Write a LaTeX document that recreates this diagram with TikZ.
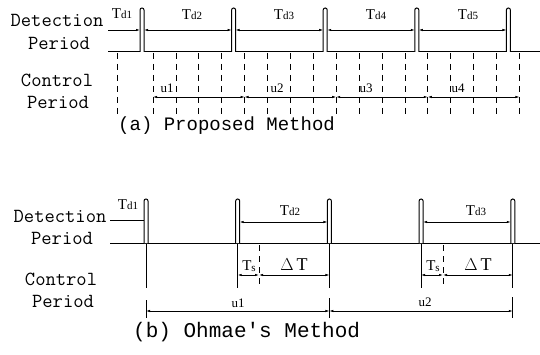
\documentclass[tikz,border=0pt]{standalone}
\usepackage{fontspec}
\newfontfamily\capfont{Liberation Mono}
\newfontfamily\tdfont{Liberation Serif}
\usetikzlibrary{arrows.meta}
\newcommand{\tdlab}[1]{T\raisebox{0.3pt}{\fontsize{11}{11}\selectfont #1}}
\begin{document}
\begin{tikzpicture}[x=1pt,y=-1pt,
  lbl/.style={font=\ttfamily\fontsize{20}{20}\selectfont, inner sep=0},
  capa/.style={font=\capfont\fontsize{19}{19}\selectfont, inner sep=0, anchor=west},
  capb/.style={font=\capfont\fontsize{21}{21}\selectfont, inner sep=0, anchor=west},
  td/.style={font=\tdfont\fontsize{15}{15}\selectfont, inner sep=0},
  ulab/.style={font=\tdfont\fontsize{13}{13}\selectfont, inner sep=0},
  dlab/.style={font=\tdfont\fontsize{18}{18}\selectfont, inner sep=0},
  dim/.style={line width=0.6pt, {Latex[length=4pt,width=2.4pt]}-{Latex[length=4pt,width=2.4pt]}},
  dimr/.style={line width=0.6pt, -{Latex[length=4pt,width=2.4pt]}},
  pulse/.style={line width=1pt, rounded corners=2pt, fill=white},
  base/.style={line width=1pt},
  gridl/.style={line width=0.7pt, dash pattern=on 6pt off 5pt},
  solidl/.style={line width=0.8pt}]
\useasboundingbox (0,0) rectangle (540,355);

% ---------------- (a) ----------------
\node[lbl] (detA) at (57,20) {Detection};
\node[lbl] (perA1) at (59,43) {Period};
\node[lbl] (conA) at (57,80) {Control};
\node[lbl] (perA2) at (58,102) {Period};

\coordinate (a0) at (108,52);
\coordinate (aend) at (540,52);
\draw[base] (a0) -- (aend);

% control grid
\coordinate (g0t) at (117,53); \coordinate (g0b) at (117,115);
\draw[gridl] (g0t) -- (g0b);
\foreach \k in {0,...,16}{
  \coordinate (gt\k) at (153+22.9*\k,53);
  \coordinate (gb\k) at (153+22.9*\k,115);
  \draw[gridl] (gt\k) -- (gb\k);
}

% pulses
\foreach \i/\x in {1/142,2/233.6,3/325.2,4/416.8,5/508.4}{
  \coordinate (pa\i) at (\x,52);
  \coordinate (pal\i) at (\x-2,30);
  \coordinate (par\i) at (\x+2,30);
  \draw[pulse] (\x-2,52) |- (\x+2,8) -- (\x+2,52);
}

% Td arrows
\coordinate (td1s) at (108,30);
\draw[dimr] (td1s) -- (pal1);
\draw[dim] (par1) -- (pal2);
\draw[dim] (par2) -- (pal3);
\draw[dim] (par3) -- (pal4);
\draw[dim] (par4) -- (pal5);
\node[td] (tda1) at (122,14) {\tdlab{d1}};
\node[td] (tda2) at (192,15) {\tdlab{d2}};
\node[td] (tda3) at (284,15) {\tdlab{d3}};
\node[td] (tda4) at (376,15) {\tdlab{d4}};
\node[td] (tda5) at (468,15) {\tdlab{d5}};

% Tu arrows
\foreach \i/\x in {0/153,1/244.6,2/336.2,3/427.8,4/519.4}{
  \coordinate (u\i) at (\x,97);
}
\draw[dim] (u0) -- (u1);
\draw[dim] (u1) -- (u2);
\draw[dim] (u2) -- (u3);
\draw[dim] (u3) -- (u4);
\node[ulab] (ua1) at (167,88) {u1};
\node[ulab] (ua2) at (277,88) {u2};
\node[ulab] (ua3) at (366,88) {u3};
\node[ulab] (ua4) at (458,88) {u4};

\node[capa] (capA) at (118,126) {(a) Proposed Method};

% ---------------- (b) ----------------
\node[lbl] (detB) at (60,216) {Detection};
\node[lbl] (perB1) at (62,238) {Period};
\node[lbl] (conB) at (61,279) {Control};
\node[lbl] (perB2) at (63,301) {Period};

\coordinate (b0) at (110,243);
\coordinate (bend) at (540,243);
\draw[base] (b0) -- (bend);

\foreach \i/\x in {1/146,2/237.7,3/329.4,4/421.1,5/512.8}{
  \coordinate (pbt\i) at (\x,243);
  \coordinate (pbb\i) at (\x,288);
  \coordinate (pbl\i) at (\x-2,222);
  \coordinate (pbr\i) at (\x+2,222);
  \coordinate (pbs\i) at (\x,275);
  \draw[solidl] (pbt\i) -- (pbb\i);
  \draw[pulse] (\x-2,243) |- (\x+2,199) -- (\x+2,243);
}

% Td1 line
\coordinate (tb1s) at (110,220);
\coordinate (tb1e) at (144,220);
\draw[line width=0.6pt] (tb1s) -- (tb1e);
\node[td] (tdb1) at (128,205) {\tdlab{d1}};

% Td2, Td3
\draw[dim] (pbr2) -- (pbl3);
\draw[dim] (pbr4) -- (pbl5);
\node[td] (tdb2) at (290,211) {\tdlab{d2}};
\node[td] (tdb3) at (476,211) {\tdlab{d3}};

% Ts ticks
\coordinate (ts1t) at (259,245); \coordinate (ts1b) at (259,288); \coordinate (ts1m) at (259,275);
\coordinate (ts2t) at (443,245); \coordinate (ts2b) at (443,288); \coordinate (ts2m) at (443,275);
\draw[gridl] (ts1t) -- (ts1b);
\draw[gridl] (ts2t) -- (ts2b);
\draw[dim] (pbs2) -- (ts1m);
\draw[dim] (ts1m) -- (pbs3);
\draw[dim] (pbs4) -- (ts2m);
\draw[dim] (ts2m) -- (pbs5);
\node[td] (tsb1) at (249,266) {T\raisebox{-1pt}{\fontsize{11}{11}\selectfont s}};
\node[td] (tsb2) at (433,266) {T\raisebox{-1pt}{\fontsize{11}{11}\selectfont s}};
\node[dlab] (dtb1) at (294,265) {$\Delta$\,T};
\node[dlab] (dtb2) at (478,265) {$\Delta$\,T};

% Tu arrows (b)
\coordinate (ub1) at (146,311); \coordinate (ub1t) at (146,300); \coordinate (ub1b) at (146,318);
\coordinate (ub2) at (329.4,311); \coordinate (ub2t) at (329.4,298); \coordinate (ub2b) at (329.4,318);
\coordinate (ub3) at (512.8,311); \coordinate (ub3t) at (512.8,297); \coordinate (ub3b) at (512.8,318);
\draw[solidl] (ub1t) -- (ub1b);
\draw[solidl] (ub2t) -- (ub2b);
\draw[solidl] (ub3t) -- (ub3b);
\draw[dim] (ub1) -- (ub2);
\draw[dim] (ub2) -- (ub3);
\node[ulab] (ulb1) at (238,303) {u1};
\node[ulab] (ulb2) at (425,302) {u2};

\node[capb] (capB) at (133,332) {(b) Ohmae's Method};
\end{tikzpicture}
\end{document}
